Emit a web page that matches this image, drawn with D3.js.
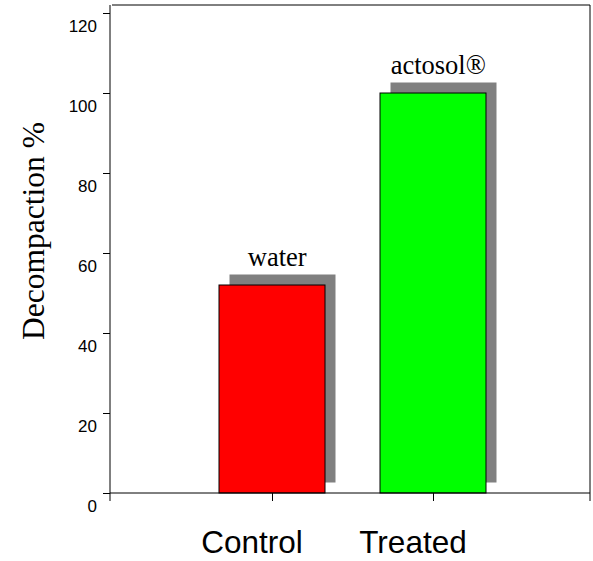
<!DOCTYPE html>
<html>
<head>
<meta charset="utf-8">
<script src="https://cdn.jsdelivr.net/npm/d3@7"></script>
<style>
html,body{margin:0;padding:0;background:#fff;}
svg{display:block;}
</style>
</head>
<body>
<svg id="chart" width="593" height="561"></svg>
<script>
const categories = ["Control", "Treated"];
const values = [52, 100];
const barLabels = ["water", "actosol®"];
const barColors = ["#ff0000", "#00ff00"];
const yTicks = [0, 20, 40, 60, 80, 100, 120];
const yTitle = "Decompaction %";

(function () {
const svg = d3.select("#chart");
const mLeft = 110, mRight = 590, mTop = 5, mBottom = 493;

const y = d3.scaleLinear().domain([0, 120]).range([mBottom, 13]);
const x = d3.scalePoint().domain(categories).range([111, 594]).padding(1);
const barW = 106, shOff = 10.5;

// frame (top and right)
svg.append("line").attr("x1", mLeft + 2).attr("x2", mRight).attr("y1", mTop).attr("y2", mTop)
  .attr("stroke", "#000").attr("stroke-width", 1);
svg.append("line").attr("x1", mRight).attr("x2", mRight).attr("y1", mTop).attr("y2", mBottom + 8)
  .attr("stroke", "#000").attr("stroke-width", 1);

// shadows
svg.selectAll("rect.shadow").data(categories).enter().append("rect")
  .attr("class", "shadow")
  .attr("x", (d) => x(d) - barW / 2 + shOff)
  .attr("y", (d, i) => y(values[i]) - shOff)
  .attr("width", barW)
  .attr("height", (d, i) => y(0) - y(values[i]))
  .attr("fill", "#808080");

// bars
svg.selectAll("rect.bar").data(categories).enter().append("rect")
  .attr("class", "bar")
  .attr("x", (d) => x(d) - barW / 2)
  .attr("y", (d, i) => y(values[i]))
  .attr("width", barW)
  .attr("height", (d, i) => y(0) - y(values[i]))
  .attr("fill", (d, i) => barColors[i])
  .attr("stroke", "#000").attr("stroke-width", 1);

// bar labels
svg.selectAll("text.blab").data(categories).enter().append("text")
  .attr("class", "blab")
  .attr("x", (d) => x(d) + shOff / 2)
  .attr("y", (d, i) => y(values[i]) - shOff - 9)
  .attr("text-anchor", "middle")
  .attr("font-family", "'Liberation Serif', 'Times New Roman', serif")
  .attr("font-size", 26.5)
  .attr("fill", "#000")
  .text((d, i) => barLabels[i]);

// y axis
const yAxis = d3.axisLeft(y).tickValues(yTicks).tickSize(7).tickFormat(d3.format("d"));
const gy = svg.append("g").attr("transform", `translate(${mLeft},0)`).call(yAxis);
gy.select(".domain").remove();
gy.append("line").attr("x1", 0).attr("x2", 0).attr("y1", mTop).attr("y2", mBottom + 8).attr("stroke", "#000");
gy.selectAll(".tick line").attr("stroke", "#000");
gy.selectAll(".tick text")
  .attr("x", -13).attr("dy", "1.08em")
  .attr("font-family", "'Liberation Sans', Arial, sans-serif")
  .attr("font-size", 17).attr("fill", "#000");

// x axis
const xAxis = d3.axisBottom(x).tickSize(8).tickFormat("");
const gx = svg.append("g").attr("transform", `translate(0,${mBottom})`).call(xAxis);
gx.select(".domain").remove();
gx.append("line").attr("x1", mLeft).attr("x2", mRight).attr("y1", 0).attr("y2", 0).attr("stroke", "#000");
gx.selectAll(".tick line").attr("stroke", "#000");

// category labels
svg.selectAll("text.cat").data(categories).enter().append("text")
  .attr("class", "cat")
  .attr("x", (d) => x(d) - 20)
  .attr("y", 553)
  .attr("text-anchor", "middle")
  .attr("font-family", "'Liberation Sans', Arial, sans-serif")
  .attr("font-size", 31.5)
  .attr("fill", "#000")
  .text((d) => d);

// y title
svg.append("text")
  .attr("transform", "translate(44,231) rotate(-90)")
  .attr("text-anchor", "middle")
  .attr("font-family", "'Liberation Serif', 'Times New Roman', serif")
  .attr("font-size", 31.5)
  .attr("fill", "#000")
  .text(yTitle);
})();
</script>
</body>
</html>
